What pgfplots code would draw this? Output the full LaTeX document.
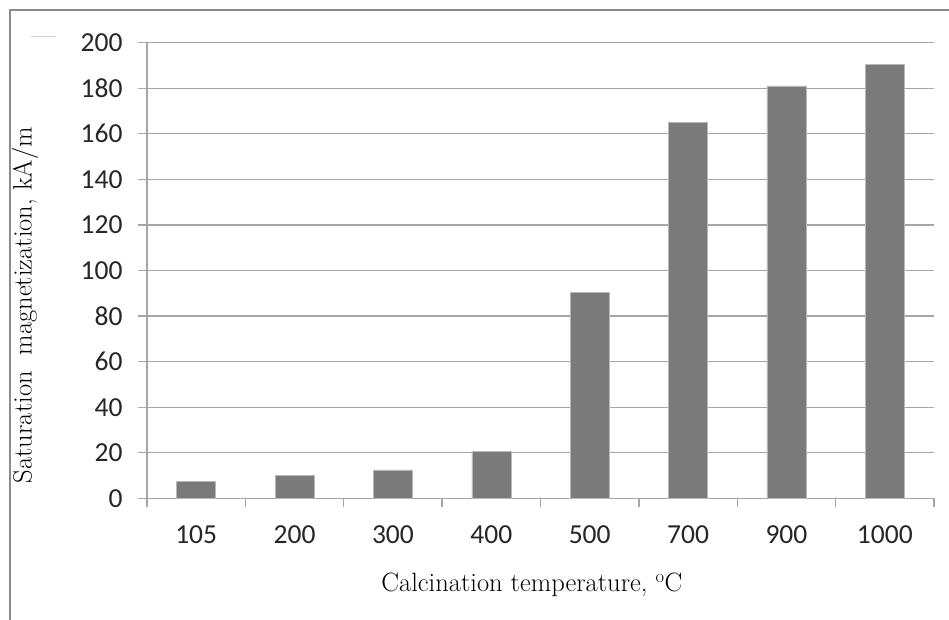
\documentclass[border=0pt]{standalone}
\usepackage{fontspec}
\usepackage{pgfplots}
\pgfplotsset{compat=1.18}
\newfontfamily\tickfont{Carlito}
\definecolor{barc}{HTML}{7A7A7A}
\definecolor{baredge}{HTML}{B8B8B8}
\definecolor{gridc}{HTML}{A6A6A6}
\definecolor{framec}{HTML}{8C8C8C}
\begin{document}
\begin{tikzpicture}
\useasboundingbox (0pt,0pt) rectangle (949pt,620pt);
\draw[line width=2.5pt, color=framec] (10pt,0pt) -- (10pt,610pt) -- (949pt,610pt);
\draw[line width=0.8pt, color=gray!35] (31pt,584pt) -- (56pt,584pt);
\begin{axis}[
  at={(147pt,121.7pt)}, anchor=south west,
  scale only axis, width=787pt, height=455.6pt,
  xmin=-0.5, xmax=7.5, ymin=0, ymax=200,
  ytick={0,20,...,200},
  xtick={-0.5,0.5,...,7.5},
  xticklabels={105,200,300,400,500,700,900,1000},
  x tick label as interval,
  axis x line*=bottom, axis y line*=left,
  ymajorgrids, grid style={gridc, line width=1.3pt},
  tick align=outside, major tick length=9pt,
  tick style={gridc, line width=1.3pt},
  axis line style={gridc, line width=1.3pt},
  ticklabel style={font=\tickfont\fontsize{27.5}{30}\selectfont, text=black!85},
  xticklabel style={yshift=-15pt},
  yticklabel style={xshift=-12pt},
  /pgf/number format/assume math mode=true,
  xlabel={Calcination temperature, \textsuperscript{o}C},
  ylabel={Saturation\ \ magnetization, kA/m},
  label style={font=\fontsize{26.5}{30}\selectfont},
  xlabel style={at={(axis description cs:0.489,-0.19)}, anchor=center},
  ylabel style={at={(axis description cs:-0.155,0.424)}, anchor=center},
  clip=false,
]
\addplot[ybar, bar width=39pt, fill=barc, draw=baredge, line width=0.6pt]
  coordinates {(0,7.5) (1,10) (2,12.5) (3,20.5) (4,90.5) (5,165) (6,181) (7,190.5)};
\end{axis}
\end{tikzpicture}
\end{document}
